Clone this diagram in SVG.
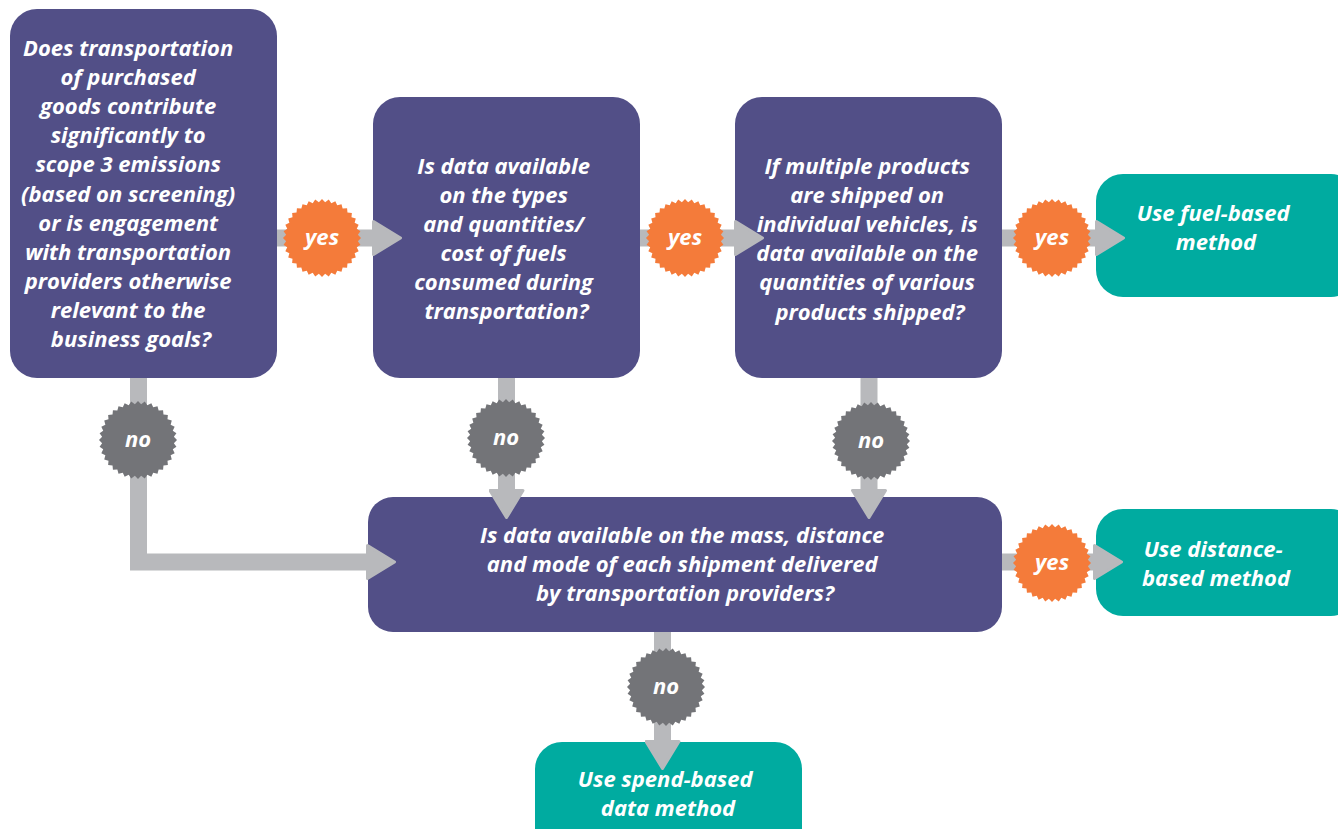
<svg xmlns="http://www.w3.org/2000/svg" width="1338" height="829" viewBox="0 0 1338 829">
<style>
.q{fill:#524f87}
.r{fill:#00aba0}
.t{font-family:"Open Sans","Noto Sans","Liberation Sans",sans-serif;font-weight:700;font-style:italic;font-size:22px;fill:#ffffff;text-anchor:middle}
.c{fill:none;stroke:#b8b9bc;stroke-width:17;stroke-linejoin:miter;marker-end:url(#ah)}
.yes{fill:#f47b3a}
.no{fill:#737478}
</style>
<defs>
<marker id="ah" markerUnits="userSpaceOnUse" viewBox="0 0 30 36" markerWidth="30" markerHeight="36" refX="1" refY="18" orient="auto">
<polygon points="1.5,1.5 28.5,18 1.5,34.5" fill="#b8b9bc" stroke="#b8b9bc" stroke-width="3" stroke-linejoin="round"/>
</marker>
<path id="burst" d="M39,0 35.86,3.14 38.41,6.77 34.77,9.32 36.65,13.34 32.63,15.21 33.77,19.5 29.49,20.65 29.87,25.07 25.46,25.46 25.07,29.87 20.65,29.49 19.5,33.77 15.21,32.63 13.34,36.65 9.32,34.77 6.77,38.41 3.14,35.86 0,39 -3.14,35.86 -6.77,38.41 -9.32,34.77 -13.34,36.65 -15.21,32.63 -19.5,33.77 -20.65,29.49 -25.07,29.87 -25.46,25.46 -29.87,25.07 -29.49,20.65 -33.77,19.5 -32.63,15.21 -36.65,13.34 -34.77,9.32 -38.41,6.77 -35.86,3.14 -39,0 -35.86,-3.14 -38.41,-6.77 -34.77,-9.32 -36.65,-13.34 -32.63,-15.21 -33.77,-19.5 -29.49,-20.65 -29.87,-25.07 -25.46,-25.46 -25.07,-29.87 -20.65,-29.49 -19.5,-33.77 -15.21,-32.63 -13.34,-36.65 -9.32,-34.77 -6.77,-38.41 -3.14,-35.86 0,-39 3.14,-35.86 6.77,-38.41 9.32,-34.77 13.34,-36.65 15.21,-32.63 19.5,-33.77 20.65,-29.49 25.07,-29.87 25.46,-25.46 29.87,-25.07 29.49,-20.65 33.77,-19.5 32.63,-15.21 36.65,-13.34 34.77,-9.32 38.41,-6.77 35.86,-3.14Z"/>
</defs>
<rect width="1338" height="829" fill="#ffffff"/>

<g id="q1">
<rect class="q" x="10" y="9" width="267" height="369" rx="27"/>
<text class="t">
<tspan x="131" y="56">Does transportation</tspan>
<tspan x="131" y="85.1">of purchased</tspan>
<tspan x="131" y="114.2">goods contribute</tspan>
<tspan x="131" y="143.3">significantly to</tspan>
<tspan x="131" y="172.4">scope 3 emissions</tspan>
<tspan x="131" y="201.5">(based on screening)</tspan>
<tspan x="131" y="230.6">or is engagement</tspan>
<tspan x="131" y="259.7">with transportation</tspan>
<tspan x="131" y="288.8">providers otherwise</tspan>
<tspan x="131" y="317.9">relevant to the</tspan>
<tspan x="131" y="347">business goals?</tspan>
</text>
</g>

<g id="q2">
<rect class="q" x="373" y="97" width="267" height="281" rx="27"/>
<text class="t">
<tspan x="506.5" y="173.5">Is data available</tspan>
<tspan x="506.5" y="202.6">on the types</tspan>
<tspan x="506.5" y="231.7">and quantities/</tspan>
<tspan x="506.5" y="260.8">cost of fuels</tspan>
<tspan x="506.5" y="289.9">consumed during</tspan>
<tspan x="506.5" y="319">transportation?</tspan>
</text>
</g>

<g id="q3">
<rect class="q" x="735" y="97" width="267" height="281" rx="27"/>
<text class="t">
<tspan x="870" y="174">If multiple products</tspan>
<tspan x="870" y="203.1">are shipped on</tspan>
<tspan x="870" y="232.2">individual vehicles, is</tspan>
<tspan x="870" y="261.3">data available on the</tspan>
<tspan x="870" y="290.4">quantities of various</tspan>
<tspan x="870" y="319.5">products shipped?</tspan>
</text>
</g>

<g id="fuel">
<rect class="r" x="1096" y="174" width="262" height="123" rx="27"/>
<text class="t">
<tspan x="1216" y="221">Use fuel-based</tspan>
<tspan x="1216" y="250">method</tspan>
</text>
</g>

<g id="q4">
<rect class="q" x="368" y="497" width="634" height="135" rx="25"/>
<text class="t">
<tspan x="685" y="543">Is data available on the mass, distance</tspan>
<tspan x="685" y="572">and mode of each shipment delivered</tspan>
<tspan x="685" y="601">by transportation providers?</tspan>
</text>
</g>

<g id="distance">
<rect class="r" x="1096" y="509" width="262" height="107" rx="27"/>
<text class="t">
<tspan x="1216" y="556.5">Use distance-</tspan>
<tspan x="1216" y="585.5">based method</tspan>
</text>
</g>

<g id="spend">
<rect class="r" x="535" y="742" width="267" height="120" rx="27"/>
<text class="t">
<tspan x="668" y="787">Use spend-based</tspan>
<tspan x="668" y="816">data method</tspan>
</text>
</g>

<g id="connectors">
<path class="c" d="M277,238H373"/>
<path class="c" d="M640,238H735"/>
<path class="c" d="M1002,238H1096"/>
<path class="c" d="M138.5,378V562H367"/>
<path class="c" d="M506.5,378V490"/>
<path class="c" d="M869,378V490"/>
<path class="c" d="M1002,562H1094"/>
<path class="c" d="M662.5,632V741"/>
</g>

<g id="badge-yes1"><use href="#burst" class="yes" x="322" y="238"/><text class="t" x="322" y="245">yes</text></g>
<g id="badge-yes2"><use href="#burst" class="yes" x="685" y="238"/><text class="t" x="685" y="245">yes</text></g>
<g id="badge-yes3"><use href="#burst" class="yes" x="1052" y="238"/><text class="t" x="1052" y="245">yes</text></g>
<g id="badge-yes4"><use href="#burst" class="yes" x="1052" y="563"/><text class="t" x="1052" y="570">yes</text></g>
<g id="badge-no1"><use href="#burst" class="no" x="138" y="440"/><text class="t" x="138" y="447">no</text></g>
<g id="badge-no2"><use href="#burst" class="no" x="506" y="438"/><text class="t" x="506" y="445">no</text></g>
<g id="badge-no3"><use href="#burst" class="no" x="871" y="441"/><text class="t" x="871" y="448">no</text></g>
<g id="badge-no4"><use href="#burst" class="no" x="666" y="687"/><text class="t" x="666" y="694">no</text></g>
</svg>
